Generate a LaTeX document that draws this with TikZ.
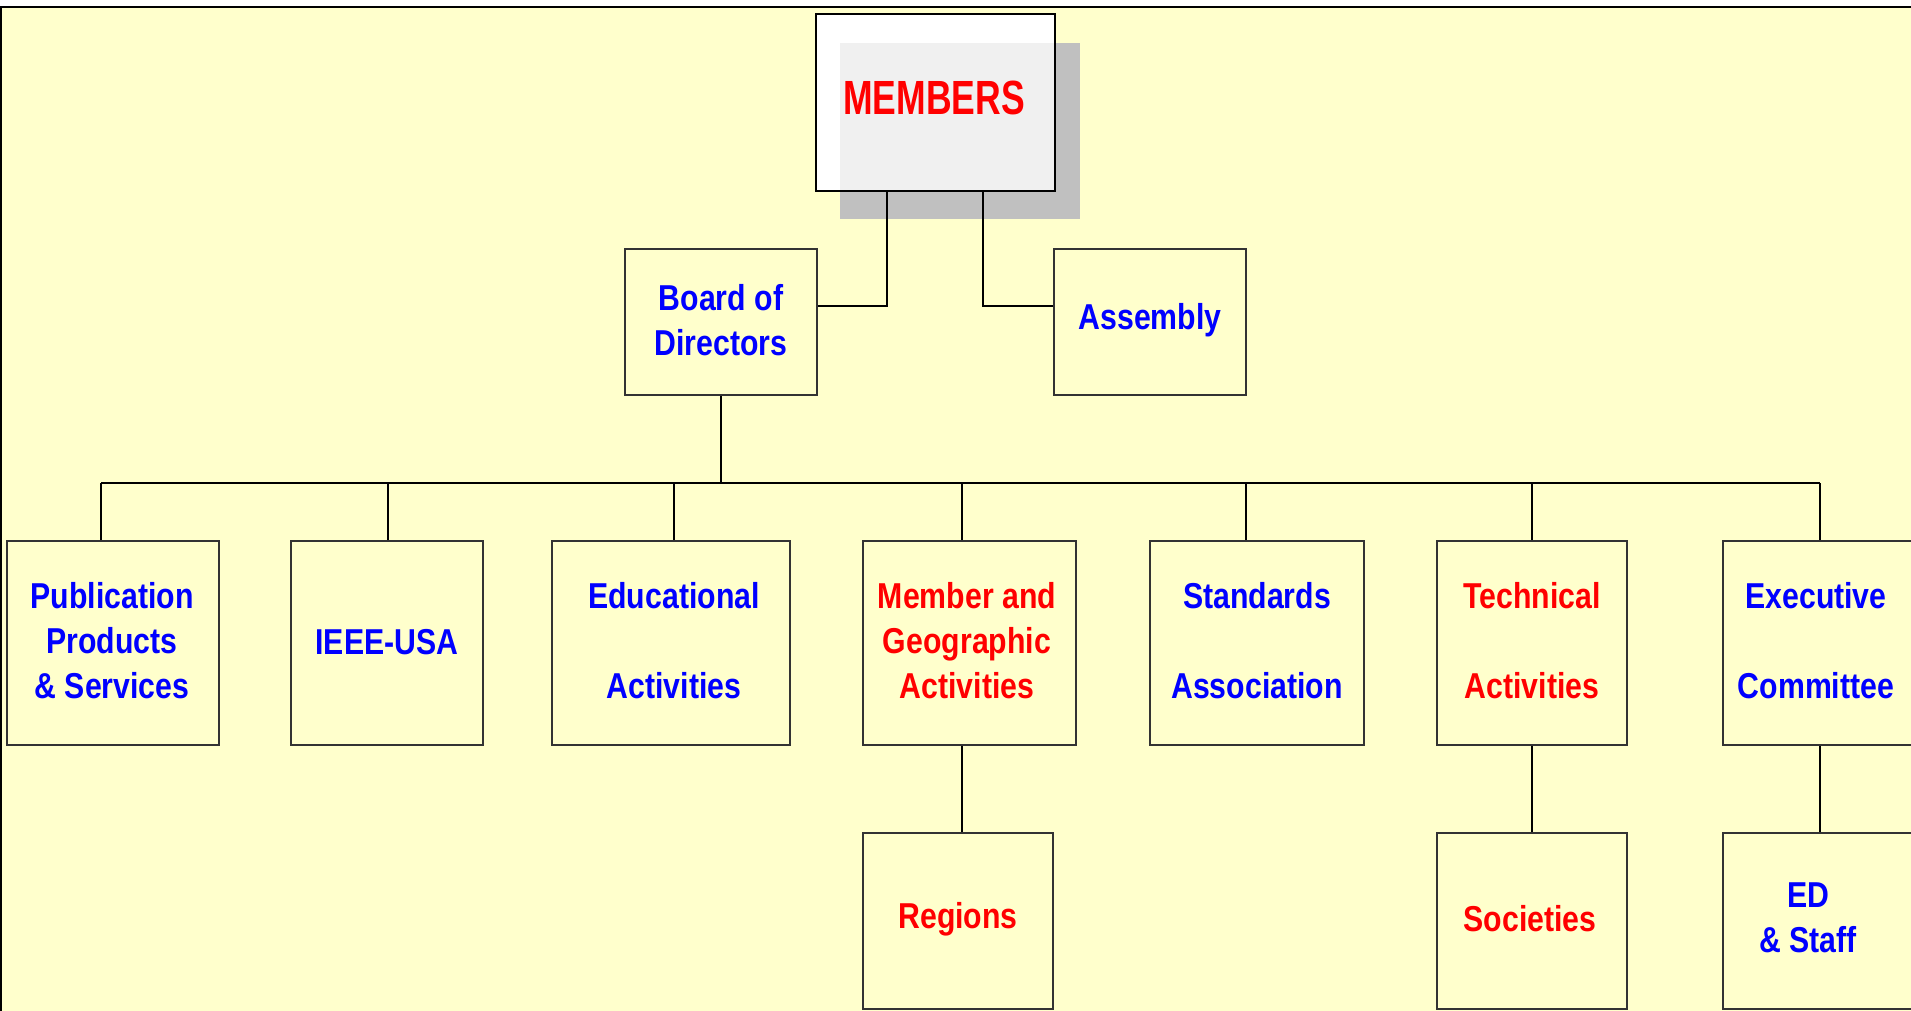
\documentclass[tikz,border=0pt]{standalone}
\usepackage{fontspec}
\setmainfont{Liberation Sans}[FakeStretch=0.84]
\newfontfamily\memfont{Liberation Sans}[FakeStretch=0.74]
\definecolor{bgyellow}{HTML}{FFFFCC}
\definecolor{ieeeblue}{HTML}{0000FF}
\definecolor{ieeered}{HTML}{FF0000}
\definecolor{shadowgray}{HTML}{C0C0C0}
\definecolor{boxline}{HTML}{333333}
\begin{document}
\begin{tikzpicture}[x=1pt,y=-1pt,
  orgbox/.style={draw=boxline, line width=2pt, fill=bgyellow, inner sep=0pt, rectangle},
  orgtext/.style={align=center, font=\fontsize{36}{45}\selectfont\bfseries, inner sep=0pt},
  bluetext/.style={orgtext, text=ieeeblue},
  redtext/.style={orgtext, text=ieeered},
  conn/.style={draw=black, line width=2pt}]
\useasboundingbox (0,0) rectangle (1911,1011);
\clip (0,0) rectangle (1911,1011);
% background
\fill[bgyellow] (0,0) rectangle (1911,1011);
\fill[white] (0,0) rectangle (1911,6);
\fill[black] (0,6) rectangle (1911,8.5);
\fill[black] (0,6) rectangle (1.7,1011);

% MEMBERS with shadow
\fill[shadowgray] (840,43) rectangle (1080,219);
\node[draw=black, line width=2.2pt, fill=white, inner sep=0pt, minimum width=239pt, minimum height=177pt] (members) at (935.5,102.5) {};
\fill[black!6] (840,43) rectangle (1053.9,189.9);
\node[font=\fontsize{48}{50}\selectfont\bfseries\memfont, text=ieeered, inner sep=0pt] (memberstext) at (934,98) {MEMBERS};

% second level
\node[orgbox, minimum width=192pt, minimum height=146pt] (board) at (721,322) {};
\node[bluetext] (boardtext) at (721,320) {Board of\\Directors};
\node[orgbox, minimum width=192pt, minimum height=146pt] (assembly) at (1150,322) {};
\node[bluetext] (assemblytext) at (1150,320) {Assembly};

% third level
\node[orgbox, minimum width=212pt, minimum height=204pt] (pub) at (112.5,643) {};
\node[bluetext] (pubtext) at (112,641) {Publication\\Products\\\& Services};
\node[orgbox, minimum width=192pt, minimum height=204pt] (usa) at (387,643) {};
\node[bluetext] (usatext) at (387,642) {IEEE-USA};
\node[orgbox, minimum width=238pt, minimum height=204pt] (edu) at (671,643) {};
\node[bluetext] (edutext) at (674,641) {Educational\\\mbox{}\\Activities};
\node[orgbox, minimum width=213pt, minimum height=204pt] (mga) at (969.5,643) {};
\node[redtext] (mgatext) at (967,641) {Member and\\Geographic\\Activities};
\node[orgbox, minimum width=214pt, minimum height=204pt] (std) at (1257,643) {};
\node[bluetext] (stdtext) at (1257,641) {Standards\\\mbox{}\\Association};
\node[orgbox, minimum width=190pt, minimum height=204pt] (tech) at (1532,643) {};
\node[redtext] (techtext) at (1532,641) {Technical\\\mbox{}\\Activities};
\node[orgbox, minimum width=192pt, minimum height=204pt] (exec) at (1819,643) {};
\node[bluetext] (exectext) at (1816,641) {Executive\\\mbox{}\\Committee};

% fourth level
\node[orgbox, minimum width=190pt, minimum height=176pt] (regions) at (958,921) {};
\node[redtext] (regionstext) at (958,919) {Regions};
\node[orgbox, minimum width=190pt, minimum height=176pt] (societies) at (1532,921) {};
\node[redtext] (societiestext) at (1530,919) {Societies};
\node[orgbox, minimum width=192pt, minimum height=176pt] (ed) at (1819,921) {};
\node[bluetext] (edtext) at (1808,918) {ED\\\& Staff};

% connectors
\coordinate (mL) at (887,306);
\coordinate (mR) at (983,306);
\draw[conn] (board.east |- mL) -- (mL) -- (mL |- members.south);
\draw[conn] (assembly.west |- mR) -- (mR) -- (mR |- members.south);
\coordinate (busL) at (101,483);
\coordinate (busR) at (1820,483);
\draw[conn] (board.south) -- (board.south |- busL);
\draw[conn] (busL) -- (busR);
\foreach \n/\x in {pub/101, usa/388, edu/674, mga/962, std/1246, tech/1532, exec/1820}{
  \draw[conn] (\x,483) -- (\x,0 |- \n.north);
}
\draw[conn] (962,0 |- mga.south) -- (962,0 |- regions.north);
\draw[conn] (1532,0 |- tech.south) -- (1532,0 |- societies.north);
\draw[conn] (1820,0 |- exec.south) -- (1820,0 |- ed.north);
\end{tikzpicture}
\end{document}
